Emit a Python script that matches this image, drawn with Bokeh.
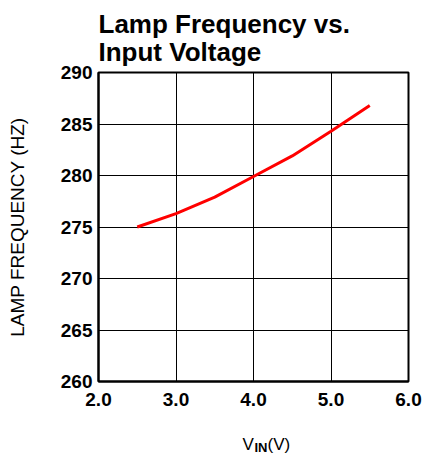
from bokeh.plotting import figure
from bokeh.models import Range1d, Label, FixedTicker
from bokeh.embed import file_html
from bokeh.resources import INLINE

# ---- data ----
vin = [2.5, 3.0, 3.5, 4.0, 4.5, 5.0, 5.5]
freq = [275.0, 276.3, 277.9, 279.9, 281.9, 284.3, 286.8]
x_ticks = [2, 3, 4, 5, 6]
x_tick_labels = ["2.0", "3.0", "4.0", "5.0", "6.0"]
y_ticks = [260, 265, 270, 275, 280, 285, 290]
y_tick_labels = ["260", "265", "270", "275", "280", "285", "290"]
X0, X1, Y0, Y1 = 2, 6, 260, 290

FONT = "Liberation Sans"
FRAME_W, FRAME_H = 310, 309

p = figure(width=426, height=458, output_backend="svg", toolbar_location=None,
           x_range=Range1d(X0, X1), y_range=Range1d(Y0, Y1),
           min_border_left=98, min_border_right=18, min_border_top=72, min_border_bottom=77)
p.background_fill_color = "white"
p.border_fill_color = "white"
p.outline_line_color = "black"
p.outline_line_width = 2

for ax in (p.xaxis[0], p.yaxis[0]):
    ax.axis_line_color = "black"
    ax.axis_line_width = 2
    ax.major_tick_in = 0
    ax.major_tick_out = 0
    ax.minor_tick_line_color = None
    ax.major_label_text_font = FONT
    ax.major_label_text_font_style = "bold"
    ax.major_label_text_font_size = "19px"
    ax.major_label_text_color = "black"

p.xaxis.ticker = FixedTicker(ticks=x_ticks)
p.xaxis.major_label_overrides = {t: l for t, l in zip(x_ticks, x_tick_labels)}
p.xaxis.major_label_standoff = 11
p.yaxis.ticker = FixedTicker(ticks=y_ticks)
p.yaxis.major_label_overrides = {t: l for t, l in zip(y_ticks, y_tick_labels)}
p.yaxis.major_label_standoff = 6
p.yaxis.axis_label = "LAMP FREQUENCY (HZ)"
p.yaxis.axis_label_text_font = FONT
p.yaxis.axis_label_text_font_style = "normal"
p.yaxis.axis_label_text_font_size = "19px"
p.yaxis.axis_label_text_color = "black"
p.yaxis.axis_label_standoff = 30

p.xgrid.ticker = FixedTicker(ticks=x_ticks)
p.ygrid.ticker = FixedTicker(ticks=y_ticks)
for g in (p.xgrid[0], p.ygrid[0]):
    g.grid_line_color = "black"
    g.grid_line_width = 1
    g.grid_line_alpha = 1.0

p.line(vin, freq, line_color="#ff0000", line_width=3)

# two-line title
p.title.text = "Lamp Frequency vs.\nInput Voltage"
p.title.text_font = FONT
p.title.text_font_size = "26px"
p.title.text_font_style = "bold"
p.title.text_color = "black"
p.title.text_line_height = 0.94
p.title.align = "left"
p.title.offset = 0
p.title.standoff = 11

# x axis label "V_IN(V)" built from pieces; offsets are pixels from the frame's
# top-left corner, converted to data units so the pieces sit below the axis
def px_to_data(dx, dy):
    return X0 + dx * (X1 - X0) / FRAME_W, Y1 - dy * (Y1 - Y0) / FRAME_H

def lab(text, dx, dy, size, style, place):
    x, y = px_to_data(dx, dy)
    p.add_layout(Label(text=text, x=x, y=y,
                       text_font=FONT, text_font_size=size, text_font_style=style,
                       text_color="black", text_align="left", text_baseline="alphabetic"),
                 place)

lab("V", 144, 372, "17px", "normal", "right")
lab("IN", 156, 374.5, "13px", "bold", "below")
lab("(V)", 169, 372, "17px", "normal", "below")

open("out.html", "w").write(file_html(p, INLINE))
